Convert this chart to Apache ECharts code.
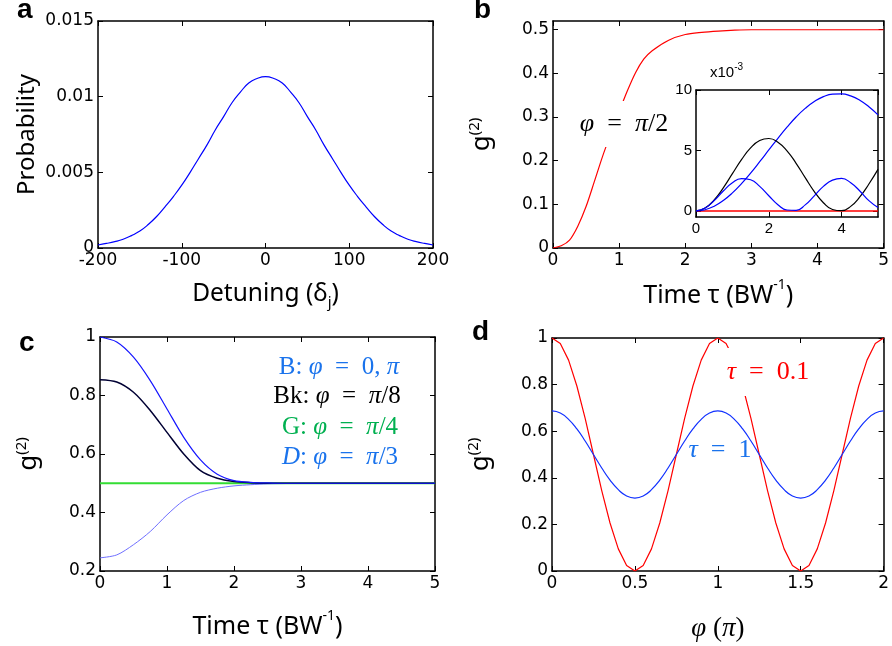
<!DOCTYPE html>
<html>
<head>
<meta charset="utf-8">
<script src="https://cdn.jsdelivr.net/npm/echarts@6/dist/echarts.min.js"></script>
<style>
  html, body { margin: 0; padding: 0; background: #fff; }
  #chart { width: 892px; height: 646px; }
</style>
</head>
<body>
<div id="chart"></div>
<script>
// panel a: detuning spectrum
var detuning = [-200, -190, -180, -170, -160, -150, -140, -130, -120, -110, -100, -90, -80, -70, -60, -50, -40, -30, -20, -10,
  0, 10, 20, 30, 40, 50, 60, 70, 80, 90, 100, 110, 120, 130, 140, 150, 160, 170, 180, 190, 200];
var probability = [0.00020, 0.00030, 0.00042, 0.00058, 0.00082, 0.00112, 0.00155, 0.00208, 0.00272, 0.00340, 0.00415,
  0.00500, 0.00590, 0.00680, 0.00780, 0.00868, 0.00960, 0.01030, 0.01090, 0.01120, 0.01132,
  0.01120, 0.01090, 0.01030, 0.00960, 0.00868, 0.00780, 0.00680, 0.00590, 0.00500, 0.00415,
  0.00340, 0.00272, 0.00208, 0.00155, 0.00112, 0.00082, 0.00058, 0.00042, 0.00030, 0.00020];

// panel b: g2 for phi = pi/2
var tauB = [0, 0.125, 0.25, 0.375, 0.5, 0.625, 0.75, 0.875, 1, 1.125, 1.25, 1.375, 1.5, 1.75, 2, 2.25, 2.5, 2.75, 3, 3.5, 4, 4.5, 5];
var g2HalfPi = [0, 0.005, 0.018, 0.050, 0.095, 0.152, 0.210, 0.262, 0.312, 0.360, 0.402, 0.433, 0.452, 0.476, 0.489,
  0.494, 0.497, 0.499, 0.500, 0.500, 0.500, 0.500, 0.500];

// panel b inset (x10^-3)
var tauInset = [0, 0.25, 0.5, 0.75, 1, 1.25, 1.5, 1.75, 2, 2.25, 2.5, 2.75, 3, 3.25, 3.5, 3.75, 4, 4.25, 4.5, 4.75, 5];
var insetBlueWide = [0, 0.10, 0.39, 0.86, 1.49, 2.26, 3.13, 4.07, 5.04, 6.01, 6.93, 7.77, 8.48, 9.05, 9.45, 9.66, 9.68, 9.51, 9.15, 8.61, 7.94];
var insetBlack = [0, 0.24, 0.91, 1.91, 3.08, 4.24, 5.21, 5.82, 5.99, 5.69, 4.97, 3.94, 2.75, 1.60, 0.68, 0.12, 0.02, 0.38, 1.16, 2.23, 3.44];
var insetBlueNarrow = [0, 0.24, 0.86, 1.65, 2.34, 2.68, 2.58, 2.03, 1.26, 0.52, 0.08, 0.05, 0.50, 1.25, 2.03, 2.55, 2.69, 2.33, 1.65, 0.85, 0.28];
var insetRed = [0, 0, 0, 0, 0, 0, 0, 0, 0, 0, 0, 0, 0, 0, 0, 0, 0, 0, 0, 0, 0];

// panel c: g2 vs tau for several phases
var tauC = [0, 0.25, 0.5, 0.75, 1, 1.25, 1.5, 1.75, 2, 2.25, 2.5, 2.75, 3, 3.25, 3.5, 3.75, 4, 4.25, 4.5, 4.75, 5];
var g2Phi0 = [1.000, 0.983, 0.931, 0.851, 0.754, 0.657, 0.580, 0.531, 0.509, 0.503, 0.501, 0.500, 0.500, 0.500, 0.500, 0.500, 0.500, 0.500, 0.500, 0.500, 0.500];
var g2PhiPi8 = [0.854, 0.846, 0.811, 0.749, 0.674, 0.600, 0.543, 0.517, 0.506, 0.502, 0.500, 0.500, 0.500, 0.500, 0.500, 0.500, 0.500, 0.500, 0.500, 0.500, 0.500];
var g2PhiPi4 = [0.500, 0.500, 0.500, 0.500, 0.500, 0.500, 0.500, 0.500, 0.500, 0.500, 0.500, 0.500, 0.500, 0.500, 0.500, 0.500, 0.500, 0.500, 0.500, 0.500, 0.500];
var g2PhiPi3 = [0.245, 0.255, 0.290, 0.335, 0.392, 0.441, 0.469, 0.483, 0.491, 0.495, 0.498, 0.499, 0.500, 0.500, 0.500, 0.500, 0.500, 0.500, 0.500, 0.500, 0.500];

// panel d: g2 vs phase
var phiD = [0, 0.05, 0.1, 0.15, 0.2, 0.25, 0.3, 0.35, 0.4, 0.45, 0.5, 0.55, 0.6, 0.65, 0.7, 0.75, 0.8, 0.85, 0.9, 0.95, 1,
  1.05, 1.1, 1.15, 1.2, 1.25, 1.3, 1.35, 1.4, 1.45, 1.5, 1.55, 1.6, 1.65, 1.7, 1.75, 1.8, 1.85, 1.9, 1.95, 2];
var g2Tau01 = [1, 0.976, 0.905, 0.794, 0.655, 0.5, 0.345, 0.206, 0.095, 0.024, 0, 0.024, 0.095, 0.206, 0.345, 0.5, 0.655, 0.794, 0.905, 0.976, 1,
  0.976, 0.905, 0.794, 0.655, 0.5, 0.345, 0.206, 0.095, 0.024, 0, 0.024, 0.095, 0.206, 0.345, 0.5, 0.655, 0.794, 0.905, 0.976, 1];
var g2Tau1 = [0.687, 0.678, 0.651, 0.610, 0.558, 0.5, 0.442, 0.390, 0.349, 0.322, 0.313, 0.322, 0.349, 0.390, 0.442, 0.5, 0.558, 0.610, 0.651, 0.678, 0.687,
  0.678, 0.651, 0.610, 0.558, 0.5, 0.442, 0.390, 0.349, 0.322, 0.313, 0.322, 0.349, 0.390, 0.442, 0.5, 0.558, 0.610, 0.651, 0.678, 0.687];

var TICK = "'DejaVu Sans', Verdana, sans-serif";
var SANS = "'Liberation Sans', Arial, sans-serif";
var TITLE = "'Noto Sans', 'Liberation Sans', sans-serif";
var SERIF = "'Liberation Serif', 'DejaVu Serif', serif";
var TXT_BLUE = "#1a73ec";
var TXT_GREEN = "#00b050";

function pairs(xs, ys) {
  return xs.map(function (x, i) { return [x, ys[i]]; });
}

var xAxes = [];
var yAxes = [];

function axisBase(gi, pos, r, label) {
  return {
    type: "value", gridIndex: gi, position: pos,
    min: r.min, max: r.max, interval: r.interval,
    axisLine: { show: true, onZero: false, lineStyle: { color: "#000", width: 1.5 } },
    axisTick: { show: true, inside: true, length: 5, lineStyle: { color: "#000", width: 1 }, customValues: r.custom },
    splitLine: { show: false },
    axisLabel: { show: false, color: "#000", fontSize: label.size, fontFamily: label.font, margin: 4,
      showMaxLabel: r.hideMax ? false : null, customValues: r.custom }
  };
}

// boxed axes (MATLAB style, ticks on all four sides); returns indices of bottom/left axes
function addFrame(gi, xr, yr, label, xName, yName) {
  var xb = axisBase(gi, "bottom", xr, label);
  xb.axisLabel.show = true;
  if (xName) Object.assign(xb, xName);
  var xt = axisBase(gi, "top", xr, label);
  var yl = axisBase(gi, "left", yr, label);
  yl.axisLabel.show = true;
  if (yName) Object.assign(yl, yName);
  var yr2 = axisBase(gi, "right", yr, label);
  var ix = xAxes.length, iy = yAxes.length;
  xAxes.push(xb, xt);
  yAxes.push(yl, yr2);
  return { x: ix, y: iy };
}

function line(axes, data, color, width, extra) {
  return Object.assign({
    type: "line", xAxisIndex: axes.x, yAxisIndex: axes.y, data: data,
    showSymbol: false, symbol: "none", animation: false,
    lineStyle: { color: color, width: width }
  }, extra || {});
}

var mainLabel = { size: 17, font: TICK };
var g2Name = {
  name: "{g|g}{sup|(2)}", nameLocation: "middle", nameRotate: 90, nameGap: 58,
  nameTextStyle: { rich: {
    g: { fontSize: 26, fontFamily: TITLE, color: "#000", lineHeight: 28, verticalAlign: "bottom" },
    sup: { fontSize: 15, fontFamily: TITLE, color: "#000", lineHeight: 18, verticalAlign: "top" }
  } }
};
function timeName(gap) {
  return {
    name: "{t|Time τ (BW}{sup|-1}{t|)}", nameLocation: "middle", nameGap: gap,
    nameTextStyle: { rich: {
      t: { fontSize: 25, fontFamily: TITLE, color: "#000", lineHeight: 30, verticalAlign: "bottom" },
      sup: { fontSize: 14, fontFamily: TITLE, color: "#000", lineHeight: 18, verticalAlign: "top" }
    } }
  };
}

var grids = [
  { left: 98, top: 21, width: 335, height: 227 },     // a
  { left: 553, top: 21, width: 335, height: 227 },    // b
  { left: 696, top: 90, width: 182, height: 127, show: true, backgroundColor: "#fff", borderWidth: 0 }, // inset
  { left: 100, top: 337, width: 335, height: 234 },   // c
  { left: 552, top: 338, width: 336, height: 233 }    // d
];

var aAx = addFrame(0, { min: -200, max: 200, interval: 100 }, { min: 0, max: 0.015, interval: 0.005 }, mainLabel,
  { name: "Detuning (δ{sub|j})", nameLocation: "middle", nameGap: 31,
    nameTextStyle: { fontSize: 24.5, fontFamily: TITLE, color: "#000", lineHeight: 31, rich: {
      sub: { fontSize: 15, fontFamily: TITLE, color: "#000", lineHeight: 13, verticalAlign: "bottom" } } } },
  { name: "Probability", nameLocation: "middle", nameRotate: 90, nameGap: 59,
    nameTextStyle: { fontSize: 24, fontFamily: TITLE, color: "#000" } });

var bAx = addFrame(1, { min: 0, max: 5, interval: 1 },
  { min: 0, max: 0.52, interval: 0.1, custom: [0, 0.1, 0.2, 0.3, 0.4, 0.5] }, mainLabel, timeName(30), g2Name);

var iAx = addFrame(2, { min: 0, max: 5, interval: 2, hideMax: true },
  { min: -0.5, max: 10, interval: 5, custom: [0, 5, 10] }, { size: 15, font: SANS }, null, null);

var cAx = addFrame(3, { min: 0, max: 5, interval: 1 }, { min: 0.2, max: 1, interval: 0.2 }, mainLabel, timeName(38), g2Name);

var dAx = addFrame(4, { min: 0, max: 2, interval: 0.5 }, { min: 0, max: 1, interval: 0.2 }, mainLabel,
  { name: "{i|φ}{n| (}{i|π}{n|)}", nameLocation: "middle", nameGap: 44,
    nameTextStyle: { rich: {
      i: { fontSize: 27, fontFamily: SERIF, fontStyle: "italic", color: "#000" },
      n: { fontSize: 27, fontFamily: SERIF, color: "#000" } } } },
  g2Name);

var series = [
  line(aAx, pairs(detuning, probability), "#0000ff", 1.2, { smooth: true }),
  line(bAx, pairs(tauB, g2HalfPi), "#ff0000", 1.2, { smooth: 0.3 }),
  line(iAx, pairs(tauInset, insetRed), "#ff0000", 1.5),
  line(iAx, pairs(tauInset, insetBlueWide), "#0000ff", 1.2, { smooth: true }),
  line(iAx, pairs(tauInset, insetBlack), "#000000", 1.2, { smooth: true }),
  line(iAx, pairs(tauInset, insetBlueNarrow), "#0000ff", 1.2, { smooth: true }),
  line(cAx, pairs(tauC, g2PhiPi4), "#33dd33", 2),
  line(cAx, pairs(tauC, g2PhiPi3), "#6f6fff", 1, { smooth: 0.3 }),
  line(cAx, pairs(tauC, g2PhiPi8), "#000033", 1.5, { smooth: 0.3 }),
  line(cAx, pairs(tauC, g2Phi0), "#1515ff", 1.2, { smooth: 0.3 }),
  line(dAx, pairs(phiD, g2Tau01), "#ff0000", 1.2),
  line(dAx, pairs(phiD, g2Tau1), "#1030ff", 1.2, { smooth: true })
];

// rich styles of graphic text use fill, not color
function mathRich(color, size) {
  return {
    n: { fontSize: size, fontFamily: SERIF, fill: color },
    i: { fontSize: size, fontFamily: SERIF, fontStyle: "italic", fill: color }
  };
}

function label(x, y, text, extra) {
  return {
    type: "text", z: 100, x: x, y: y,
    style: Object.assign({ text: text, align: "center", verticalAlign: "middle", fill: "#000" }, extra)
  };
}

function panelLetter(x, y, t) {
  return label(x, y, t, { align: "left", font: "bold 28px " + SANS });
}

var graphics = [
  panelLetter(17, 10, "a"),
  panelLetter(474, 10, "b"),
  panelLetter(19, 343, "c"),
  panelLetter(472, 332, "d"),
  label(624, 124, "{i|φ}{n|  =  }{i|π}{n|/2}", { rich: mathRich("#000", 26), backgroundColor: "#fff", padding: [10, 4] }),
  label(710, 71, "{n|x10}{s|-3}", { align: "left", rich: {
    n: { fontSize: 15, fontFamily: SANS, fill: "#000", lineHeight: 18, verticalAlign: "bottom" },
    s: { fontSize: 10, fontFamily: SANS, fill: "#000", lineHeight: 10, verticalAlign: "top" } } }),
  label(339, 367, "{n|B: }{i|φ}{n|  =  0, }{i|π}", { rich: mathRich(TXT_BLUE, 25) }),
  label(337, 396, "{n|Bk: }{i|φ}{n|  =  }{i|π}{n|/8}", { rich: mathRich("#000", 25) }),
  label(340, 427, "{n|G: }{i|φ}{n|  =  }{i|π}{n|/4}", { rich: mathRich(TXT_GREEN, 25) }),
  label(340, 457, "{i|D}{n|: }{i|φ}{n|  =  }{i|π}{n|/3}", { rich: mathRich(TXT_BLUE, 25) }),
  label(768, 372, "{i|τ}{n|  =  0.1}", { rich: mathRich("#ff0000", 26), backgroundColor: "#fff", padding: [11, 4] }),
  label(720, 450, "{i|τ}{n|  =  1}", { rich: mathRich(TXT_BLUE, 26) })
];

var chart = echarts.init(document.getElementById("chart"), null, { renderer: "canvas" });
chart.setOption({
  animation: false,
  backgroundColor: "#fff",
  grid: grids,
  xAxis: xAxes,
  yAxis: yAxes,
  series: series,
  graphic: graphics
});
</script>
</body>
</html>
